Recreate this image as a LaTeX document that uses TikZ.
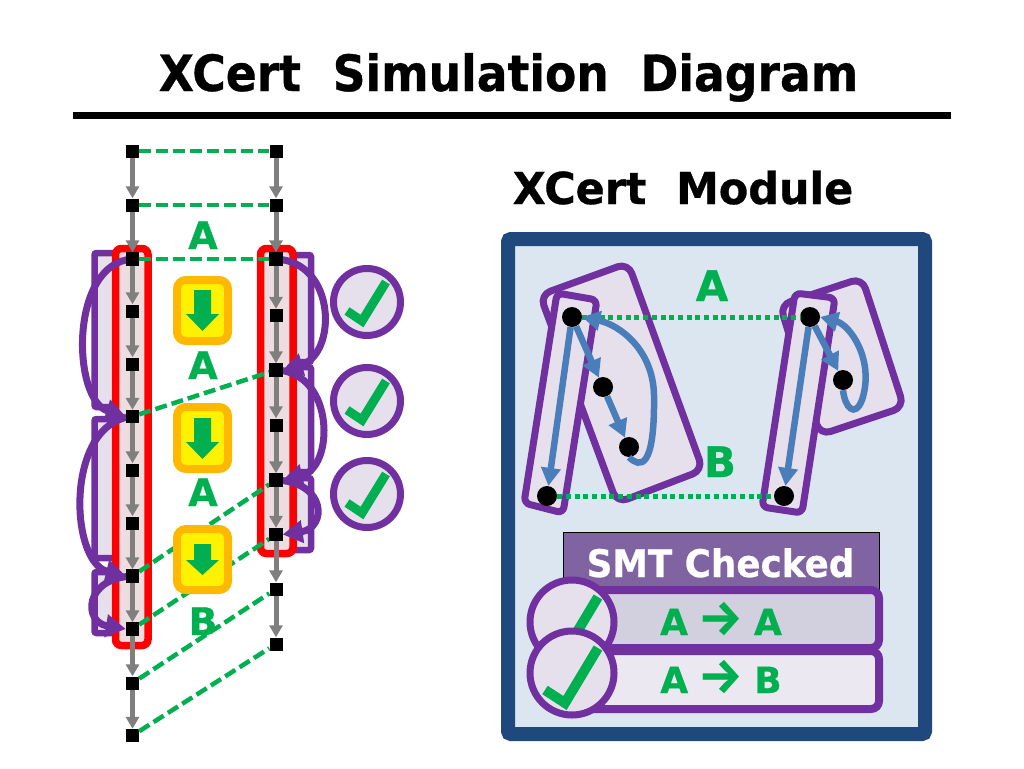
\documentclass[tikz,border=0pt]{standalone}
\usepackage{fontspec}
\setmainfont{DejaVu Sans}[BoldFont={DejaVu Sans Bold},BoldFeatures={FakeBold=0.7}]
\newfontfamily\arrowfont{Fira Sans}
\usetikzlibrary{arrows.meta}
\definecolor{gr}{HTML}{00B050}
\definecolor{pur}{HTML}{7030A0}
\definecolor{lav}{HTML}{E6E0EC}
\definecolor{navy}{HTML}{1F497D}
\definecolor{panel}{HTML}{DCE6F1}
\definecolor{blu}{HTML}{4A7EBB}
\definecolor{smt}{HTML}{8064A2}
\definecolor{gry}{HTML}{7F7F7F}
\definecolor{redin}{HTML}{EEDDE0}
\definecolor{org}{HTML}{FFB800}
\definecolor{rowa}{HTML}{D2CFDF}
\definecolor{rowb}{HTML}{ECE8F2}
\newcommand{\fs}[1]{\fontsize{#1}{#1}\selectfont\bfseries}
\newcommand{\arr}{{\arrowfont\fontsize{50}{50}\selectfont →}}
\tikzset{
  x=1pt,y=-1pt,
  sq/.style={fill=black,inner sep=0pt,minimum size=13pt,shape=rectangle},
  dot/.style={fill=black,circle,inner sep=0pt,minimum size=20pt},
  gar/.style={draw=gry,line width=5pt,-{Triangle[length=12pt,width=13pt]}},
  gda/.style={draw=gr,line width=4.5pt,dash pattern=on 12pt off 5pt},
  back/.style={draw=pur,fill=lav,line width=6.5pt,rounded corners=2pt},
  redbox/.style={draw=red,fill=redin,line width=7.5pt,rounded corners=6pt},
  parc/.style={draw=pur,line width=7pt,-{Triangle[length=20pt,width=22pt]}},
  ybox/.style={draw=org,fill=yellow,line width=8pt,rounded corners=9pt},
  darrow/.style={fill=gr},
  chk/.style={draw=pur,fill=lav,line width=7pt,circle,inner sep=0pt,minimum size=67pt},
  chkmark/.style={draw=gr,line width=9pt,miter limit=10},
  letter/.style={text=gr,font=\fs{38},inner sep=0pt},
  grp/.style={draw=pur,fill=lav,line width=7pt,rounded corners=11pt},
  grpn/.style={draw=pur,fill=lav,line width=7pt,rounded corners=6pt},
  bar/.style={draw=blu,line width=6.5pt,-{Triangle[length=18pt,width=19pt]}},
  gdot/.style={draw=gr,line width=5pt,dash pattern=on 5pt off 3.7pt},
  rowbox/.style={draw=pur,line width=8pt,rounded corners=8pt},
  bigchk/.style={draw=pur,fill=lav,line width=7pt,circle,inner sep=0pt,minimum size=84pt},
}
\begin{document}
\begin{tikzpicture}
\useasboundingbox[fill=white] (0,0) rectangle (1024,768);
% title
\node[font=\fs{50},inner sep=0pt,anchor=base] (title) at (508.5,91) {\scalebox{0.912}[1]{XCert\ \ Simulation\ \ Diagram}};
\coordinate (ruleL) at (73,115); \coordinate (ruleR) at (951,115);
\draw[line width=7pt] (ruleL) -- (ruleR);
% lavender backs
\draw[back] (125,253) -- (94.5,253) -- (94.5,407) -- (125,407);
\draw[back] (125,419) -- (94.5,419) -- (94.5,558) -- (125,558);
\draw[back] (125,572) -- (94.5,572) -- (94.5,633) -- (125,633);
\draw[back] (285,255) -- (311,255) -- (311,362) -- (285,362);
\draw[back] (285,367) -- (311,367) -- (311,472) -- (285,472);
\draw[back] (285,478) -- (311,478) -- (311,550) -- (285,550);
% red
\draw[redbox] (115.5,248.5) rectangle (148,645.5);
\draw[redbox] (260.5,248.5) rectangle (293,553.5);
% nodes
\foreach \n/\y in {1/151,2/205,3/259,4/311,5/364,6/416.5,7/470,8/523,9/576,10/629,11/683,12/735.5}
  \node[sq] (L\n) at (132.5,\y) {};
\foreach \n/\y in {1/151,2/205,3/259,4/315.5,5/370,6/425,7/480,8/534.5,9/589,10/644}
  \node[sq] (R\n) at (276,\y) {};
% gray arrows
\foreach \a/\b in {1/2,2/3,3/4,4/5,5/6,6/7,7/8,8/9,9/10,10/11,11/12}
  \draw[gar] (L\a) -- (L\b);
\foreach \a/\b in {1/2,2/3,3/4,4/5,5/6,6/7,7/8,8/9,9/10}
  \draw[gar] (R\a) -- (R\b);
% dashes
\draw[gda] (L1) -- (R1);
\draw[gda] (L2) -- (R2);
\draw[gda] (L3) -- (R3);
\draw[gda] (L6) -- (R5);
\draw[gda] (L9) -- (R7);
\draw[gda] (L10) -- (R8);
\draw[gda] (L11) -- (R9);
\draw[gda] (L12) -- (R10);
% purple arcs
\draw[parc] (L3.center) .. controls (69,263) and (72,400) .. (L6.west);
\draw[parc] (L6.center) .. controls (65,422) and (69,562) .. (L9.west);
\draw[parc] (L9.center) .. controls (84,578) and (83,622) .. (L10.west);
\draw[parc] (R3.center) .. controls (337,262) and (337,355) .. (R5.east);
\draw[parc] (R5.center) .. controls (335,372) and (335,468) .. (R7.east);
\draw[parc] (R7.center) .. controls (327,482) and (327,528) .. (R8.east);
% redraw nodes on top
\foreach \n in {3,6,9,10} \fill (L\n.north west) rectangle (L\n.south east);
\foreach \n in {3,5,7,8} \fill (R\n.north west) rectangle (R\n.south east);
% yellow boxes
\draw[ybox] (177,280) rectangle (228,341);
\draw[ybox] (177,407) rectangle (228,469);
\draw[ybox] (177,529) rectangle (228,590);
\fill[darrow] (194,290) -- (211,290) -- (211,314) -- (219,314) -- (202.5,331) -- (186,314) -- (194,314) -- cycle;
\fill[darrow] (194,418) -- (211,418) -- (211,442) -- (219,442) -- (202.5,459) -- (186,442) -- (194,442) -- cycle;
\fill[darrow] (194,544) -- (211,544) -- (211,560) -- (219,560) -- (202.5,575) -- (186,560) -- (194,560) -- cycle;
% letters
\node[letter,anchor=base] (la1) at (203,249) {A};
\node[letter,anchor=base] (la2) at (203,379) {A};
\node[letter,anchor=base] (la3) at (203,506) {A};
\node[letter,anchor=base] (lb) at (203,635) {B};
% checks
\foreach \n/\y in {1/302,2/401,3/494}{
  \node[chk] (c\n) at (367,\y) {};
  \draw[chkmark] ([shift={(-20,9)}]c\n.center) -- ([shift={(-5,19)}]c\n.center) -- ([shift={(19,-20)}]c\n.center);
}
% panel
\node[font=\fs{44},inner sep=0pt,anchor=base] (mod) at (683,204) {\scalebox{0.974}[1]{XCert\ \ Module}};
\draw[draw=navy,fill=panel,line width=14pt,rounded corners=3pt] (508,239) rectangle (925,734);
% groups
\draw[grp] (540,295) -- (628,263) -- (703,470) -- (617,503) -- cycle;
\draw[grp] (780,305) -- (862,278) -- (904,407) -- (820,435) -- cycle;
\draw[grpn] (557,293) -- (597,300) -- (563,513) -- (524,503) -- cycle;
\draw[grpn] (795,293) -- (835,298) -- (802,513) -- (762,507) -- cycle;
\node[dot] (d1) at (572,317) {};
\node[dot] (d2) at (603,387) {};
\node[dot] (d3) at (629,447) {};
\node[dot] (d4) at (547,496) {};
\node[dot] (d5) at (810,317) {};
\node[dot] (d6) at (843,380) {};
\node[dot] (d7) at (784,496) {};
\draw[gdot] (d1) -- (d5);
\draw[gdot] (d4) -- (d7);
\draw[bar] (d1) -- (d2);
\draw[bar] (d2) -- (d3);
\draw[bar] (d1) -- (d4);
\draw[bar] (d3.south) .. controls (640,468) and (655,470) .. (654,395) .. controls (653,350) and (620,325) .. (d1.east);
\draw[bar] (d5) -- (d6);
\draw[bar] (d6.south) .. controls (845,408) and (855,418) .. (862,400) .. controls (875,360) and (850,325) .. (d5.east);
\draw[bar] (d5) -- (d7);
\node[letter,font=\fs{42},anchor=base] (ga) at (712,301) {A};
\node[letter,font=\fs{42},anchor=base] (gb) at (720,477) {B};
% SMT
\draw[draw=black,fill=smt,line width=1pt] (563,532) rectangle (879,605);
\node[font=\fs{38},text=white,inner sep=0pt,anchor=base] (smtt) at (720.5,577) {\scalebox{0.94}[1]{SMT Checked}};
\draw[rowbox,fill=rowa] (575,590) rectangle (879,648);
\draw[rowbox,fill=rowb] (575,651) rectangle (879,709);
\node[font=\fs{36},text=gr,inner sep=0pt,anchor=base] (r1) at (721,635) {A\hspace{-2pt} \arr{} \hspace{-2pt}A};
\node[font=\fs{36},text=gr,inner sep=0pt,anchor=base] (r2) at (721,693) {A\hspace{-2pt} \arr{} \hspace{-2pt}B};
\node[bigchk] (b1) at (572,622) {};
\draw[chkmark,line width=10pt] ([shift={(-27,17)}]b1.center) -- ([shift={(-7,30)}]b1.center) -- ([shift={(26,-25)}]b1.center);
\node[bigchk] (b2) at (572,673) {};
\draw[chkmark,line width=10pt] ([shift={(-27,17)}]b2.center) -- ([shift={(-7,30)}]b2.center) -- ([shift={(26,-25)}]b2.center);
\end{tikzpicture}
\end{document}
